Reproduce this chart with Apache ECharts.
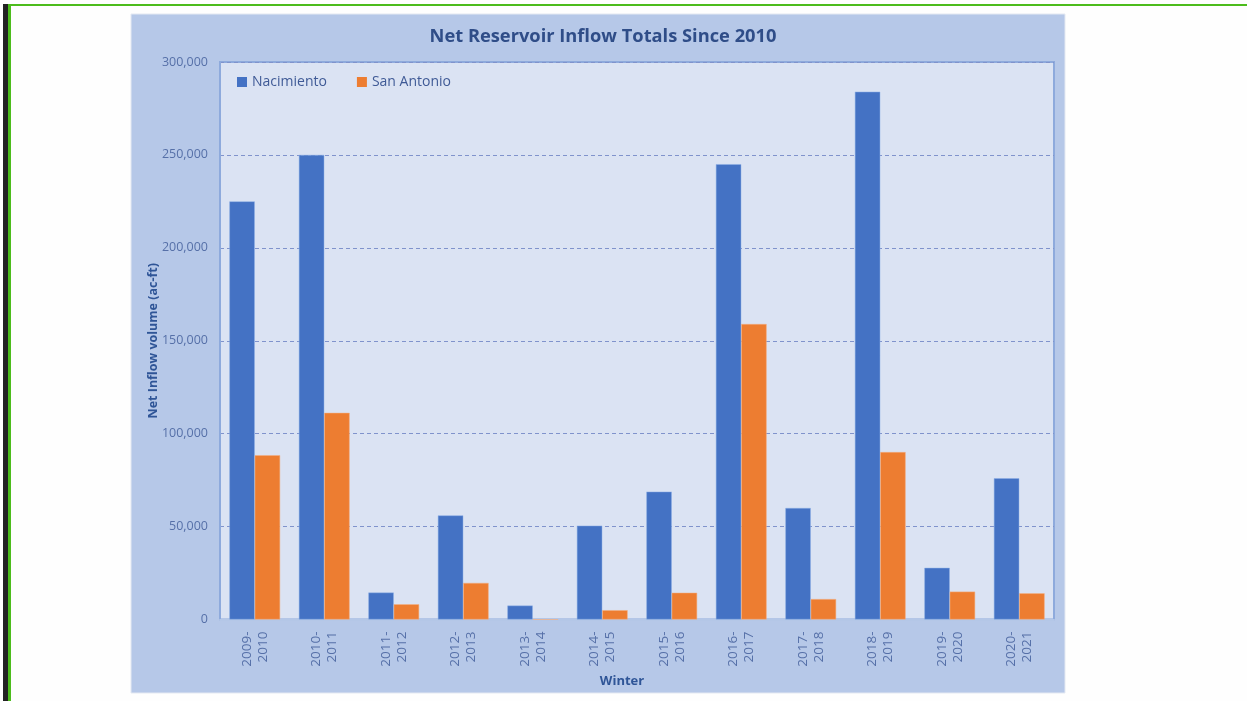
<!DOCTYPE html>
<html>
<head>
<meta charset="utf-8">
<script src="https://cdn.jsdelivr.net/npm/echarts@6/dist/echarts.min.js"></script>
<style>
html,body{margin:0;padding:0;background:#fefefe;}
#frameTop{position:absolute;left:10px;top:4px;width:1237px;height:2px;background:#4cbc1c;}
#frameBlack{position:absolute;left:3px;top:4px;width:5px;height:697px;background:#222;}
#frameGreen{position:absolute;left:8px;top:4px;width:3px;height:697px;background:#4cbc1c;}
#chart{position:absolute;left:0;top:0;width:1247px;height:701px;}
</style>
</head>
<body>
<div id="chart"></div>
<div id="frameTop"></div>
<div id="frameBlack"></div>
<div id="frameGreen"></div>
<script>
var categories = ['2009-\n2010','2010-\n2011','2011-\n2012','2012-\n2013','2013-\n2014','2014-\n2015','2015-\n2016','2016-\n2017','2017-\n2018','2018-\n2019','2019-\n2020','2020-\n2021'];
var nacimiento = [225000, 250000, 14500, 56000, 7500, 50500, 68800, 245000, 60000, 284000, 27800, 76000];
var sanAntonio = [88400, 111200, 8200, 19700, 0, 5000, 14400, 159000, 11000, 90100, 15000, 14100];
var yTicks = [0, 50000, 100000, 150000, 200000, 250000, 300000];

var FONT = 'Open Sans';
var chart = echarts.init(document.getElementById('chart'));
chart.setOption({
  animation: false,
  textStyle: {fontFamily: FONT},
  graphic: [{
    type: 'rect', z: -10, silent: true,
    shape: {x: 131, y: 14, width: 934, height: 679},
    style: {fill: '#b6c8e8', stroke: '#e4e9f2', lineWidth: 1}
  }],
  title: {
    text: 'Net Reservoir Inflow Totals Since 2010',
    left: 598, top: 23, textAlign: 'center',
    textStyle: {fontFamily: FONT, fontSize: 18.3, fontWeight: 'bold', color: '#2f4d88'}
  },
  legend: {
    left: 232, top: 70,
    itemWidth: 10, itemHeight: 10, itemGap: 30, icon: 'rect',
    itemStyle: {borderWidth: 0},
    textStyle: {fontFamily: FONT, fontSize: 14, color: '#3f5a96'},
    data: ['Nacimiento', 'San Antonio']
  },
  grid: {
    left: 220, top: 62, right: 193, bottom: 81.5,
    show: true, backgroundColor: '#dbe3f3', borderColor: '#8eaadc', borderWidth: 2
  },
  xAxis: {
    type: 'category', data: categories,
    name: 'Winter', nameLocation: 'middle', nameGap: 52,
    nameTextStyle: {fontFamily: FONT, fontSize: 13, fontWeight: 'bold', color: '#2f5597', padding: [0, 30, 0, 0]},
    axisLine: {lineStyle: {color: '#b4c7e7', width: 2}},
    axisTick: {show: false},
    axisLabel: {rotate: 90, fontFamily: FONT, fontSize: 13.5, color: '#5670a8', margin: 12, lineHeight: 16, interval: 0}
  },
  yAxis: {
    type: 'value', min: 0, max: 300000, interval: 50000,
    name: 'Net Inflow volume (ac-ft)', nameLocation: 'middle', nameGap: 60, nameMoveOverlap: false,
    nameTextStyle: {fontFamily: FONT, fontSize: 12.5, fontWeight: 'bold', color: '#2f5597'},
    axisLine: {show: true, lineStyle: {color: '#8eaadc', width: 2}},
    axisTick: {show: false},
    splitLine: {lineStyle: {type: [4, 3], color: '#8093cc', width: 1}},
    axisLabel: {
      fontFamily: FONT, fontSize: 12.5, color: '#5670a8', margin: 12,
      formatter: function (v) { return yTicks.indexOf(v) >= 0 ? v.toLocaleString('en-US') : ''; }
    }
  },
  series: [{
    name: 'Nacimiento', type: 'bar', data: nacimiento,
    itemStyle: {color: '#4472c4', borderColor: '#8fb0e6', borderWidth: 0.5},
    barGap: '0%', barCategoryGap: '27%'
  }, {
    name: 'San Antonio', type: 'bar', data: sanAntonio,
    itemStyle: {color: '#ed7d31', borderColor: '#f4b183', borderWidth: 0.5},
    barGap: '0%', barCategoryGap: '27%'
  }]
});
</script>
</body>
</html>
